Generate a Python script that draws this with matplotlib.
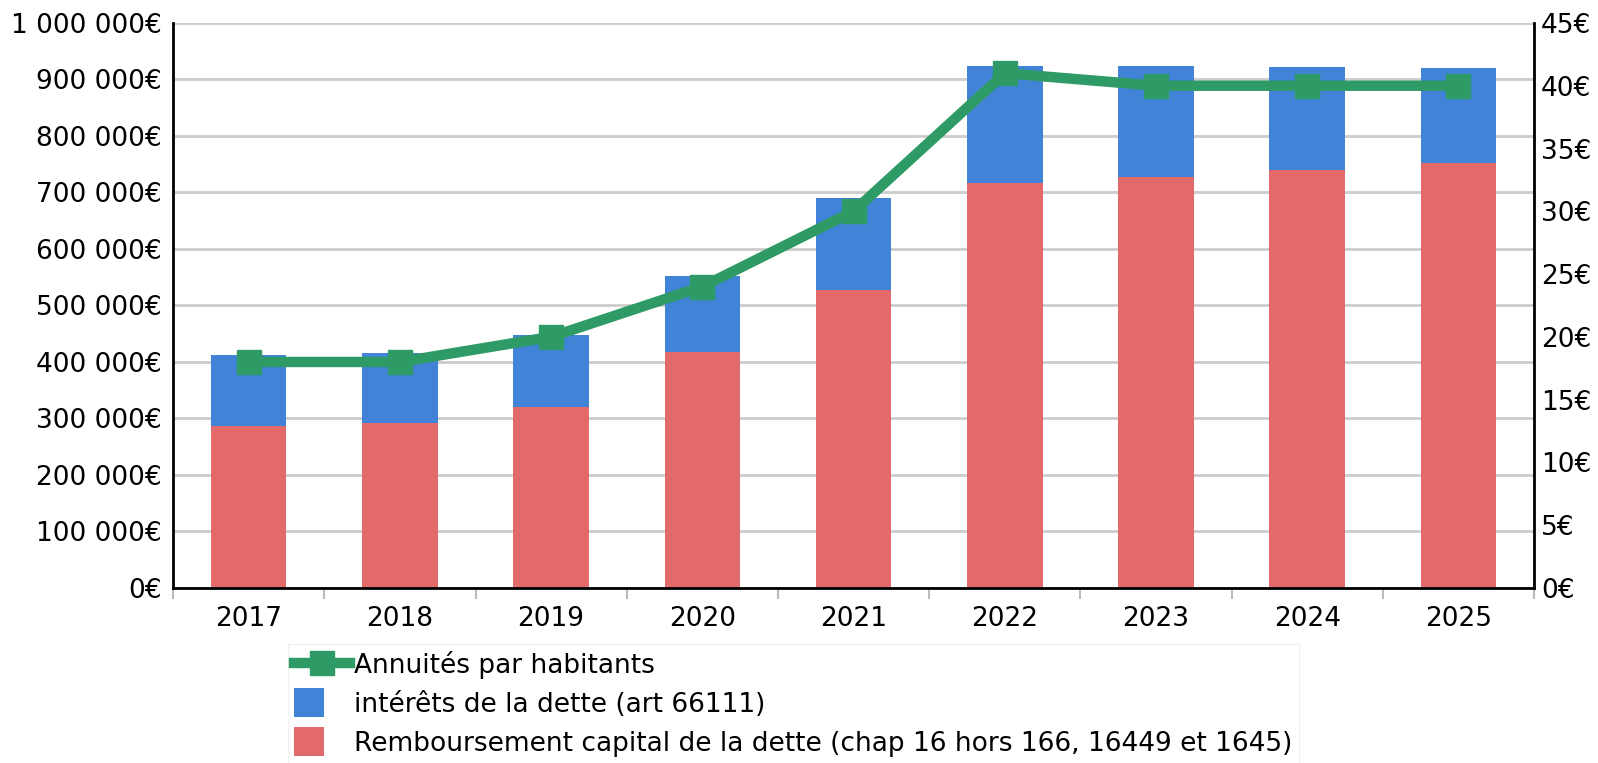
import matplotlib.pyplot as plt
from matplotlib.patches import Rectangle
from matplotlib.legend_handler import HandlerPatch
from matplotlib.ticker import FuncFormatter, FixedLocator

years = ['2017', '2018', '2019', '2020', '2021', '2022', '2023', '2024', '2025']
capital = [286000, 292000, 321000, 418000, 528000, 716000, 728000, 740000, 752000]
interets = [127000, 124000, 127000, 135000, 162000, 208000, 196000, 182000, 169000]
annuites = [18, 18, 20, 24, 30, 41, 40, 40, 40]

RED = '#e26a6a'
BLUE = '#4183d7'
GREEN = '#2e9a66'
FS = 19

plt.rcParams['font.family'] = ['DejaVu Sans']


def euro_fmt(v, pos):
    s = f"{int(round(v)):,}".replace(',', ' ')
    return s + '€'


def square_patch(legend, orig_handle, xdescent, ydescent, width, height, fontsize):
    side = height * 1.6
    return Rectangle((-xdescent, -ydescent - (side - height) / 2), side, side)


fig = plt.figure(figsize=(15.98, 7.63), dpi=100)
ax = fig.add_axes([0.1083, 0.2294, 0.8517, 0.7405])

x = list(range(len(years)))
ax.bar(x, capital, width=0.5, color=RED, zorder=2)
ax.bar(x, interets, width=0.5, bottom=capital, color=BLUE, zorder=2)

ax.set_xlim(-0.5, 8.5)
ax.set_ylim(0, 1000000)
ax.set_yticks(range(0, 1000001, 100000))
ax.yaxis.set_major_formatter(FuncFormatter(euro_fmt))
ax.set_xticks(x)
ax.set_xticklabels(years)
ax.xaxis.set_minor_locator(FixedLocator([i - 0.5 for i in range(len(years) + 1)]))
ax.tick_params(axis='x', which='major', length=0, pad=13, labelsize=FS)
ax.tick_params(axis='x', which='minor', length=8, width=1.5, color='#bbbbbb')
ax.tick_params(axis='y', length=0, pad=8, labelsize=FS)
ax.grid(axis='y', color='#cccccc', linewidth=2, zorder=0)
ax.set_axisbelow(True)
ax.spines['top'].set_visible(False)
ax.spines['right'].set_visible(False)
ax.spines['left'].set_linewidth(2)
ax.spines['bottom'].set_linewidth(2)

ax2 = ax.twinx()
line, = ax2.plot(x, annuites, color=GREEN, linewidth=7.5, marker='s', markersize=17, zorder=3)
ax2.set_ylim(0, 45)
ax2.set_yticks(range(0, 46, 5))
ax2.yaxis.set_major_formatter(FuncFormatter(lambda v, p: f"{int(v)}€"))
ax2.tick_params(axis='y', length=0, pad=5, labelsize=FS)
ax2.spines['top'].set_visible(False)
ax2.spines['left'].set_visible(False)
ax2.spines['bottom'].set_visible(False)
ax2.spines['right'].set_linewidth(2)

handles = [line,
           Rectangle((0, 0), 1, 1, facecolor=BLUE, edgecolor='none'),
           Rectangle((0, 0), 1, 1, facecolor=RED, edgecolor='none')]
labels = ['Annuités par habitants',
          'intérêts de la dette (art 66111)',
          'Remboursement capital de la dette (chap 16 hors 166, 16449 et 1645)']
leg = fig.legend(handles, labels, loc='upper left', bbox_to_anchor=(0.18, 0.156),
                 fontsize=FS, frameon=True, fancybox=False, edgecolor='#eeeeee',
                 handlelength=2.1, handletextpad=0.15, labelspacing=0.5,
                 borderpad=0.25, borderaxespad=0,
                 handler_map={Rectangle: HandlerPatch(patch_func=square_patch)})

fig.savefig('out.png', dpi=100)
